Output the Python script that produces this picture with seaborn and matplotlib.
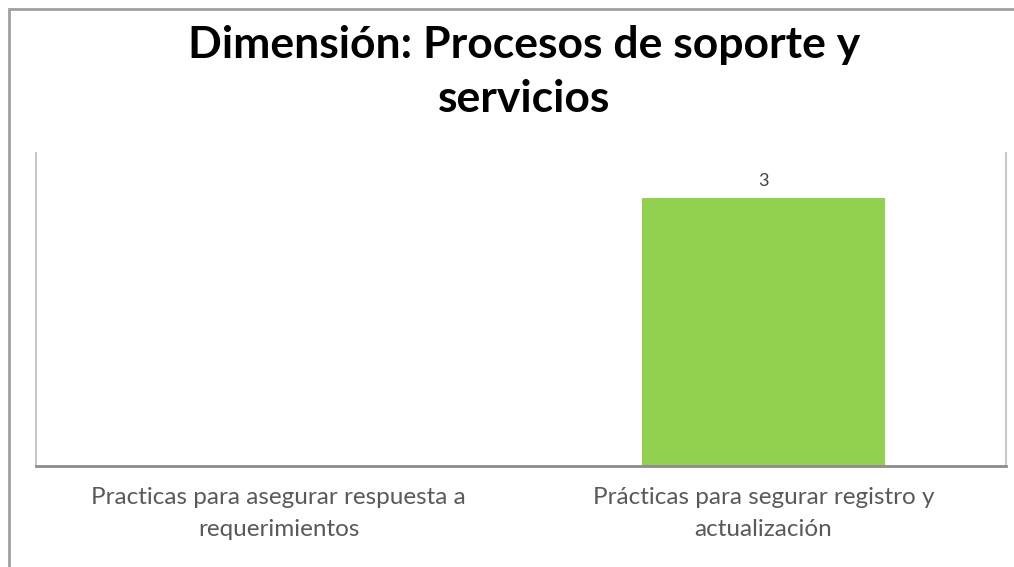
import matplotlib
matplotlib.use("Agg")
import matplotlib.pyplot as plt
import seaborn as sns
import pandas as pd
from matplotlib.patches import Rectangle

categories = ["Practicas para asegurar respuesta a\nrequerimientos",
              "Prácticas para segurar registro y\nactualización"]
values = [0, 3]
title = "Dimensión: Procesos de soporte y\nservicios"

sns.set_theme(style="white")
plt.rcParams['font.family'] = ['Lato', 'DejaVu Sans']

df = pd.DataFrame({"cat": categories, "val": values})

fig = plt.figure(figsize=(10.14, 5.67), dpi=100)
ax = fig.add_axes([36/1014, 1-466/567, (1006-36)/1014, (466-153)/567])
sns.barplot(data=df, x="cat", y="val", color="#92D050", width=0.5, ax=ax,
            saturation=1, edgecolor="none")
ax.set_xlim(-0.5, 1.5)
ax.set_ylim(0, 3.5)
ax.set_yticks([])
ax.set_xlabel("")
ax.set_ylabel("")
ax.tick_params(axis="x", length=0, pad=15, labelsize=17.5, labelcolor="#595959")
for lbl in ax.get_xticklabels():
    lbl.set_linespacing(1.65)
for s in ["left", "right"]:
    ax.spines[s].set_color("#c8c8c8")
    ax.spines[s].set_linewidth(1.5)
ax.spines["top"].set_visible(False)
ax.spines["bottom"].set_color("#8c8c8c")
ax.spines["bottom"].set_linewidth(2)

for i, v in enumerate(values):
    if v > 0:
        ax.text(i, v + 0.1, str(v), ha="center", va="bottom", fontsize=13, color="#404040")

fig.text(524/1014, 1-72/567, title, ha="center", va="center", fontsize=32,
         fontweight="bold", color="#000000", linespacing=1.4)

fig.add_artist(Rectangle((8.5/1014, -0.1), 1.2, 1 - 9/567 + 0.1, transform=fig.transFigure,
                         fill=False, edgecolor="#a0a0a0", linewidth=2))

fig.savefig("out.png", dpi=100)
